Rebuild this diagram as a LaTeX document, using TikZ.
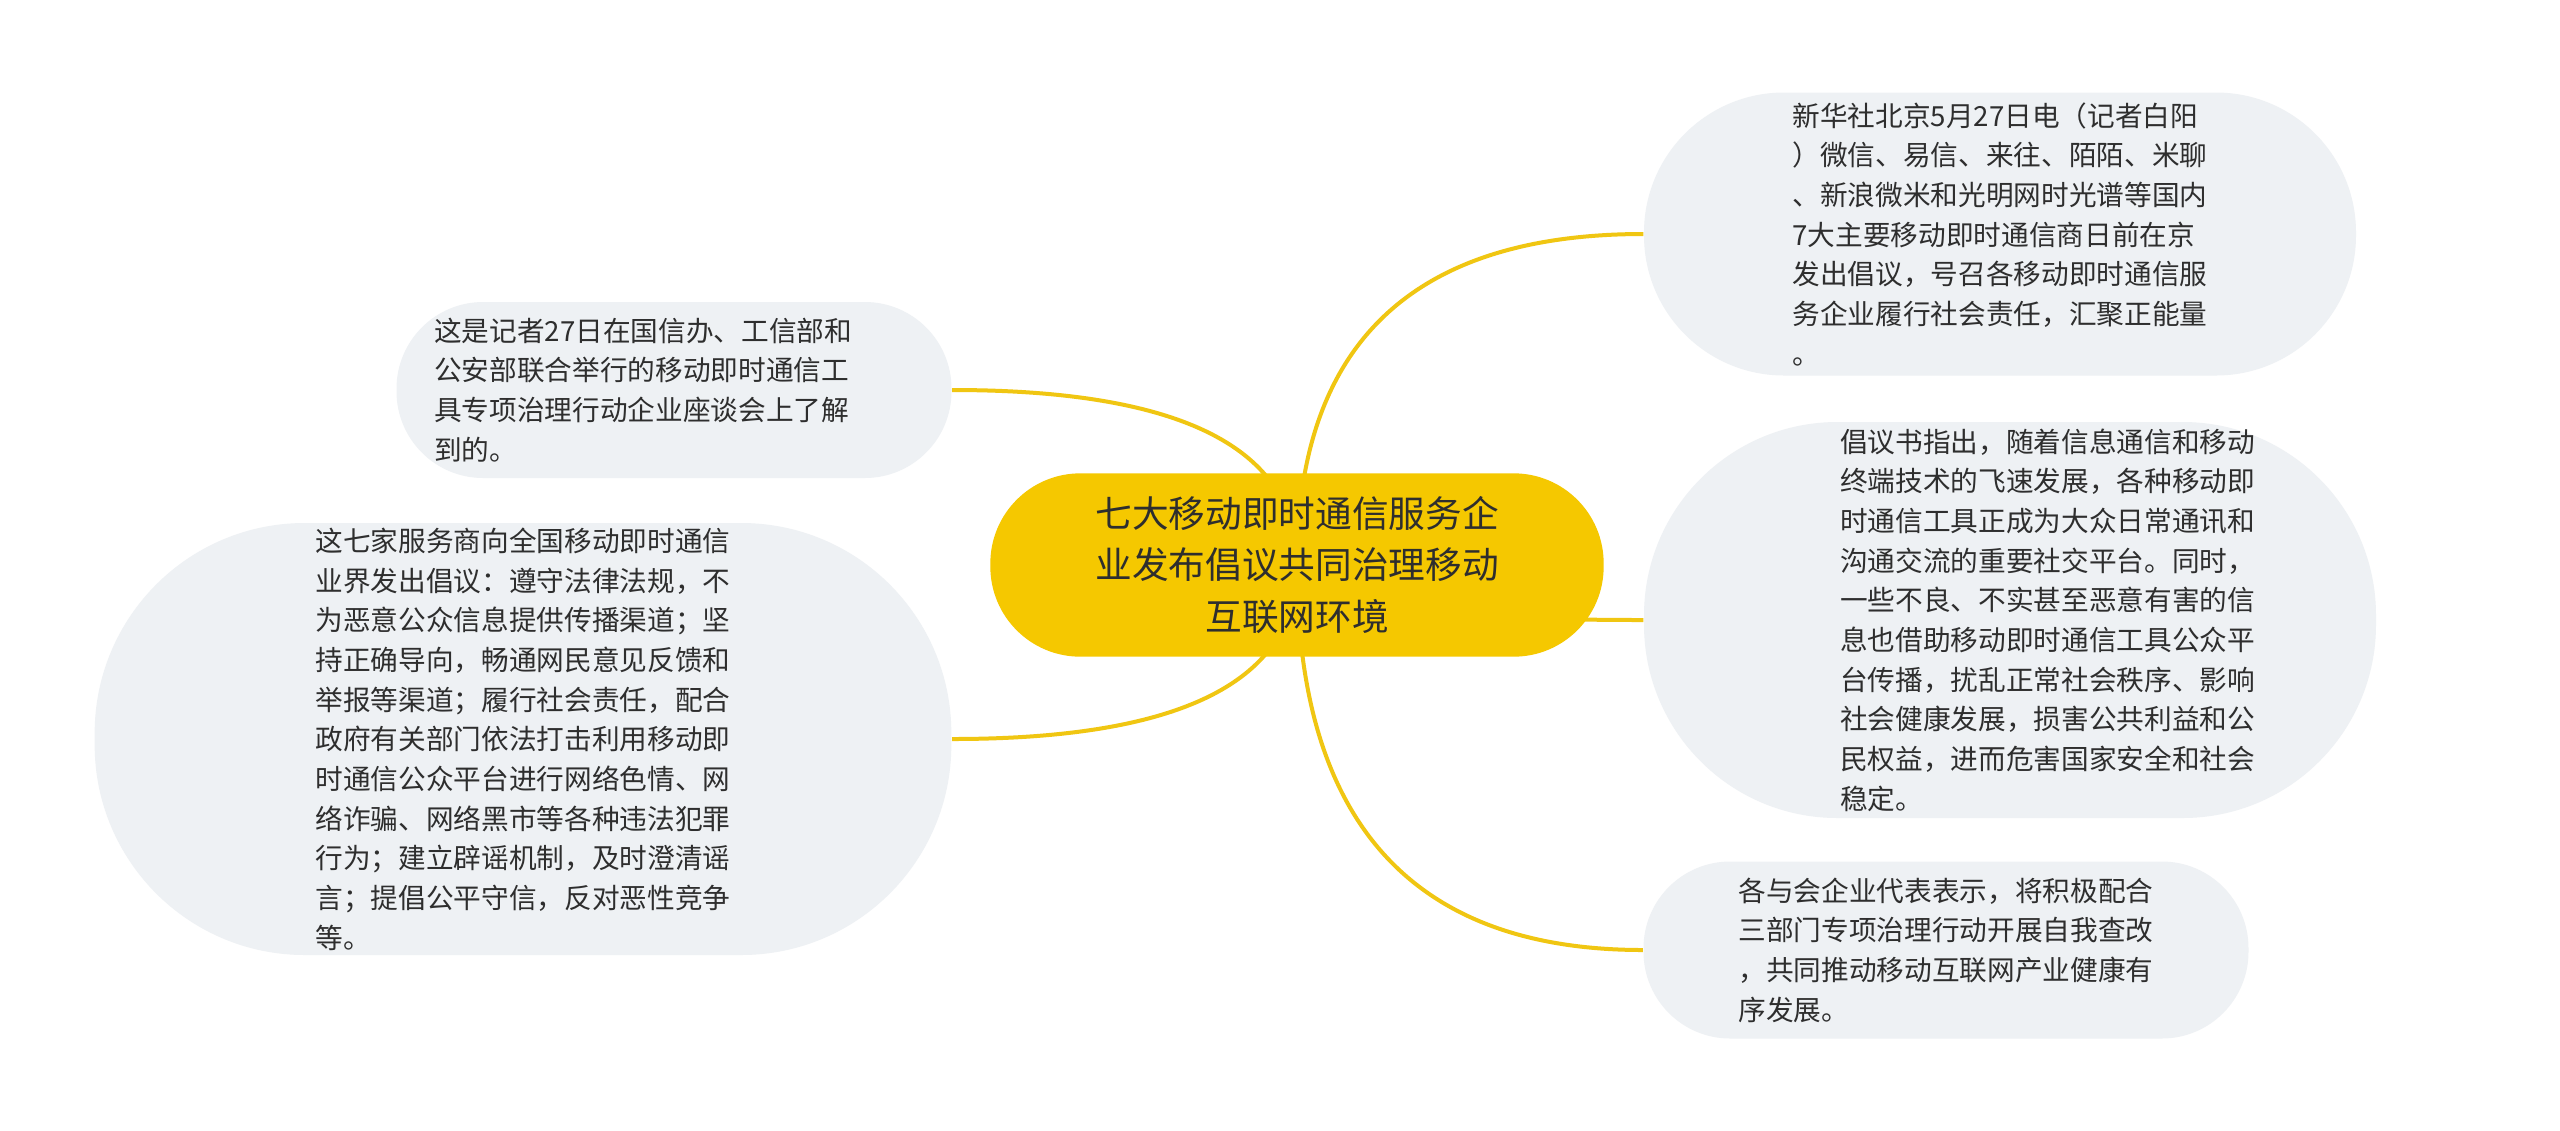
\documentclass[tikz,border=0pt]{standalone}
\usepackage{fontspec}
\newfontfamily\cjk{Noto Sans CJK SC}
\usetikzlibrary{calc,backgrounds}

\definecolor{rootyellow}{HTML}{F5C800}
\definecolor{linkyellow}{HTML}{F0C612}
\definecolor{leafgray}{HTML}{EEF1F4}
\definecolor{inktext}{HTML}{2E2E2E}

\tikzset{
  leaf/.style={fill=leafgray, text=inktext, align=left, inner sep=0pt,
    font=\cjk\fontsize{8.3}{11.9}\selectfont},
  root/.style={fill=rootyellow, text=inktext, align=center, inner sep=0pt,
    rounded corners=27pt, minimum width=184pt, minimum height=55pt,
    font=\cjk\fontsize{11}{15.4}\selectfont},
  link/.style={draw=linkyellow, line width=1.2pt},
}

\begin{document}
\begin{tikzpicture}[x=0.3pt, y=-0.3pt]
        \useasboundingbox (0,0) rectangle (2560,1130);

        \node[root] (root) at (1297,565)
          {七大移动即时通信服务企\\业发布倡议共同治理移动\\互联网环境};

        % right side
        \node[leaf, rounded corners=42pt, minimum width=213.6pt, minimum height=84.9pt]
          (news) at (2000,234)
          {新华社北京5月27日电（记者白阳\\）微信、易信、来往、陌陌、米聊\\、新浪微米和光明网时光谱等国内\\7大主要移动即时通信商日前在京\\发出倡议，号召各移动即时通信服\\务企业履行社会责任，汇聚正能量\\。};
        \node[leaf, text width=150pt, rounded corners=58pt, minimum width=219.6pt, minimum height=118.8pt]
          (proposal) at (2010,620)
          {\leftskip=24pt 倡议书指出，随着信息通信和移动\\终端技术的飞速发展，各种移动即\\时通信工具正成为大众日常通讯和\\沟通交流的重要社交平台。同时，\\一些不良、不实甚至恶意有害的信\\息也借助移动即时通信工具公众平\\台传播，扰乱正常社会秩序、影响\\社会健康发展，损害公共利益和公\\民权益，进而危害国家安全和社会\\稳定。\par};
        \node[leaf, rounded corners=26pt, minimum width=181.5pt, minimum height=53.1pt]
          (pledge) at (1946,950)
          {各与会企业代表表示，将积极配合\\三部门专项治理行动开展自我查改\\，共同推动移动互联网产业健康有\\序发展。};

        % left side
        \node[leaf, text width=144pt, rounded corners=26pt, minimum width=166.5pt, minimum height=52.8pt]
          (meeting) at (674,390)
          {这是记者27日在国信办、工信部和\\公安部联合举行的移动即时通信工\\具专项治理行动企业座谈会上了解\\到的。};
        \node[leaf, rounded corners=63pt, minimum width=257pt, minimum height=129.6pt]
          (seven) at (523,739)
          {这七家服务商向全国移动即时通信\\业界发出倡议：遵守法律法规，不\\为恶意公众信息提供传播渠道；坚\\持正确导向，畅通网民意见反馈和\\举报等渠道；履行社会责任，配合\\政府有关部门依法打击利用移动即\\时通信公众平台进行网络色情、网\\络诈骗、网络黑市等各种违法犯罪\\行为；建立辟谣机制，及时澄清谣\\言；提倡公平守信，反对恶性竞争\\等。};

        \begin{scope}[on background layer]
          \fill[white] (0,0) rectangle (2560,1130);
          \foreach \n/\side in {news/west, proposal/west, pledge/west, meeting/east, seven/east} {
            \coordinate (k-\n) at (root.center |- \n.\side);
            \draw[link] (root.center)
              .. controls ($(root.center)!0.667!(k-\n)$) and ($(\n.\side)!0.667!(k-\n)$) .. (\n.\side);
          }
        \end{scope}
      \end{tikzpicture}
\end{document}
